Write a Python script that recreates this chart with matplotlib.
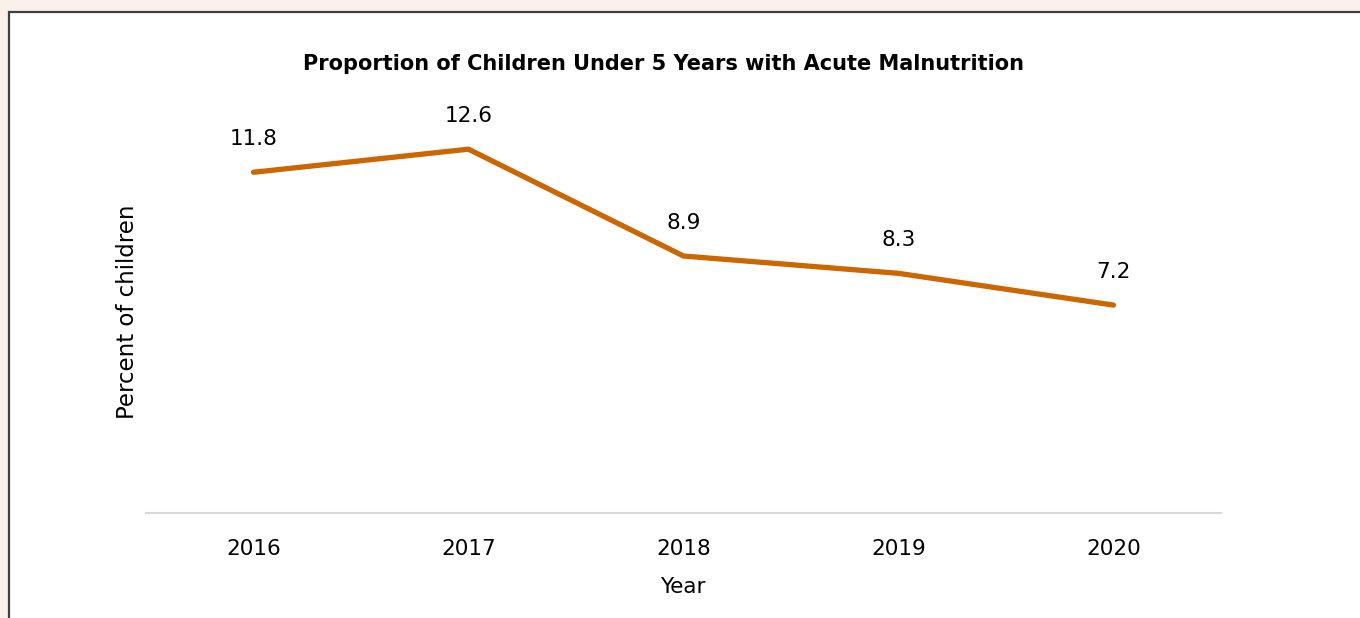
import matplotlib
matplotlib.use("Agg")
import matplotlib.pyplot as plt
from matplotlib.patches import Rectangle

years = ["2016", "2017", "2018", "2019", "2020"]
values = [11.8, 12.6, 8.9, 8.3, 7.2]
title = "Proportion of Children Under 5 Years with Acute Malnutrition"

W, H = 1360, 618
fig = plt.figure(figsize=(W / 100, H / 100), dpi=100)
fig.patch.set_facecolor("#FAF1EA")

# white panel with dark border (left/top visible)
panel = Rectangle((9 / W, -0.2), 1.2, 1.2 - 12 / H, transform=fig.transFigure,
                  facecolor="white", edgecolor="#404040", linewidth=1.6, zorder=-5)
fig.patches.append(panel)

ax = fig.add_axes([146 / W, 1 - 513 / H, (1221 - 146) / W, (513 - 51) / H])
ax.set_zorder(2)
ax.set_facecolor("none")
x = list(range(len(years)))
ax.plot(x, values, color="#CC6600", linewidth=3.8, solid_capstyle="round", solid_joinstyle="miter")
for xi, v in zip(x, values):
    ax.annotate(f"{v}", (xi, v), xytext=(0, 24), textcoords="offset points",
                ha="center", va="center", fontsize=15.5, color="black")
ax.set_xlim(-0.5, 4.5)
ax.set_ylim(0, 16)
ax.set_xticks(x)
ax.set_xticklabels(years, fontsize=15.5)
ax.set_yticks([])
ax.tick_params(axis="x", length=0, pad=19)
for s in ["top", "right", "left"]:
    ax.spines[s].set_visible(False)
ax.spines["bottom"].set_color("#D9D9D9")
ax.spines["bottom"].set_linewidth(1.5)

fig.text(663.5 / W, 1 - 64 / H, title, ha="center", va="center",
         fontsize=15, fontweight="bold", zorder=3)
fig.text(683 / W, 1 - 587 / H, "Year", ha="center", va="center", fontsize=15.5, zorder=3)
fig.text(127 / W, 1 - 312 / H, "Percent of children", ha="center", va="center",
         rotation=90, fontsize=16.5, zorder=3)

fig.savefig("out.png", dpi=100, facecolor=fig.get_facecolor())
